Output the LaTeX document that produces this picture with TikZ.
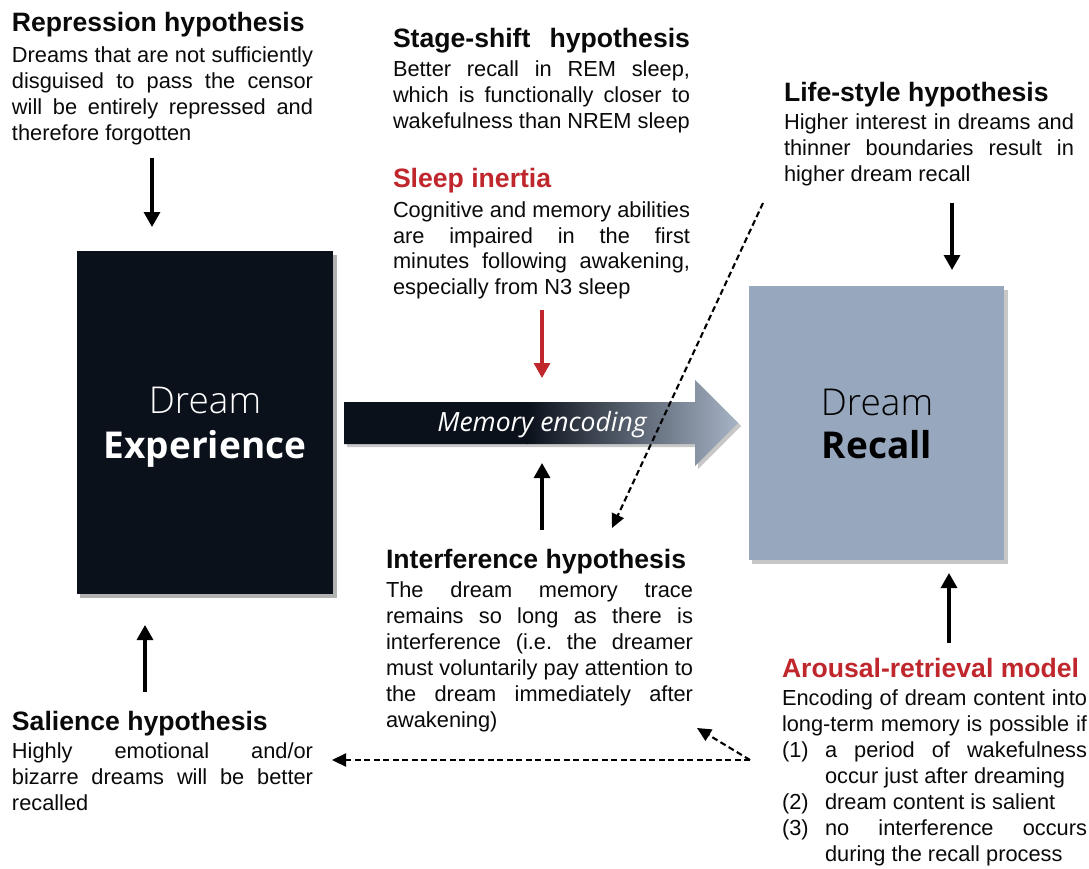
\documentclass[tikz,border=0pt]{standalone}
\usepackage{fontspec}
\setmainfont{Liberation Sans}
\newfontfamily\oslight{Open Sans Light}
\newfontfamily\osans{Open Sans}
\usetikzlibrary{arrows.meta}
\definecolor{dk}{HTML}{0B111B}
\definecolor{lt}{HTML}{97A7BD}
\definecolor{rd}{HTML}{C0272D}
\definecolor{arl}{HTML}{A8B5C7}
\definecolor{txt}{HTML}{0A0A0A}
\newcommand\tf{\fontsize{26.6}{29}\selectfont\bfseries}
\newcommand\bodyf{\fontsize{21.8}{26}\selectfont}
\newcommand\jl[2]{\hbox to #1pt{\bodyf #2}}
\newcommand\nl[1]{\hbox{\bodyf #1}}
\newcommand\itm[2]{\hbox to 43pt{\bodyf #1\hss}}
\tikzset{
  blk/.style={anchor=base west, inner sep=0pt, outer sep=0pt, text=txt},
  arr/.style={line width=3.2pt, -{Triangle[length=15pt,width=16pt]}},
  darr/.style={line width=2.1pt, dash pattern=on 6pt off 3.5pt, -{Triangle[length=14pt,width=13pt]}},
}
\begin{document}
\begin{tikzpicture}[x=1pt,y=-1pt]
\useasboundingbox (0,0) rectangle (1089,869);
\fill[white] (0,0) rectangle (1089,869);

% boxes with shadows
\fill[black!30] (80,255) rectangle (337,598);
\node[fill=dk, minimum width=256pt, minimum height=343pt, inner sep=0pt, anchor=north west] (exp) at (77,251) {};
\node[text=white, font=\oslight\fontsize{37}{40}\selectfont, anchor=base] (expa) at (205,413) {Dream};
\node[text=white, font=\osans\bfseries\fontsize{37}{40}\selectfont, anchor=base] (expb) at (205,458) {Experience};

\fill[black!22] (752,290) rectangle (1008,564);
\node[fill=lt, minimum width=255pt, minimum height=274pt, inner sep=0pt, anchor=north west] (rec) at (749,286) {};
\node[text=black, font=\oslight\fontsize{37}{40}\selectfont, anchor=base] (reca) at (877,415) {Dream};
\node[text=black, font=\osans\bfseries\fontsize{37}{40}\selectfont, anchor=base] (recb) at (877,458) {Recall};

% memory encoding arrow
\fill[black!22, shift={(3,3)}] (344,402) -- (695,402) -- (695,380) -- (738,423) -- (695,466) -- (695,444) -- (344,444) -- cycle;
\begin{scope}
\clip (344,402) -- (695,402) -- (695,380) -- (738,423) -- (695,466) -- (695,444) -- (344,444) -- cycle;
\fill[dk] (340,370) rectangle (528,470);
\shade[left color=dk, right color=arl] (527,370) rectangle (740,470);
\end{scope}
\node[text=white, font=\osans\itshape\fontsize{26.5}{30}\selectfont] (enc) at (542,425) {Memory encoding};

% text blocks
\node[blk] (rep) at (12,32) {\vtop{\baselineskip=25.8pt
\hbox{\tf Repression hypothesis}\vskip5pt
\jl{301}{Dreams that are not sufficiently}
\jl{301}{disguised to pass the censor}
\jl{301}{will be entirely repressed and}
\nl{therefore forgotten}}};

\node[blk] (stg) at (393,48) {\vtop{\baselineskip=26pt
\hbox to 297pt{\tf Stage-shift hypothesis}\vskip3pt
\jl{297}{Better recall in REM sleep,}
\jl{297}{which is functionally closer to}
\nl{wakefulness than NREM sleep}}};

\node[blk] (sin) at (393,188) {\vtop{\baselineskip=26pt
\hbox{\tf\color{rd}Sleep inertia}\vskip3pt
\jl{297}{Cognitive and memory abilities}
\jl{297}{are impaired in the first}
\jl{297}{minutes following awakening,}
\nl{especially from N3 sleep}}};

\node[blk] (life) at (784,102) {\vtop{\baselineskip=26pt
\hbox{\tf Life-style hypothesis}\vskip2pt
\jl{290}{Higher interest in dreams and}
\jl{290}{thinner boundaries result in}
\nl{higher dream recall}}};

\node[blk] (intf) at (386,568) {\vtop{\baselineskip=26pt
\hbox{\tf Interference hypothesis}\vskip3pt
\jl{307}{The dream memory trace}
\jl{307}{remains so long as there is}
\jl{307}{interference (i.e.\ the dreamer}
\jl{307}{must voluntarily pay attention to}
\jl{307}{the dream immediately after}
\nl{awakening)}}};

\node[blk] (sal) at (12,730) {\vtop{\baselineskip=26pt
\hbox{\tf Salience hypothesis}\vskip2pt
\jl{301}{Highly emotional and/or}
\jl{301}{bizarre dreams will be better}
\nl{recalled}}};

\node[blk] (aro) at (782,677) {\vtop{\baselineskip=26pt
\hbox{\tf\color{rd}Arousal-retrieval model}\vskip2pt
\jl{305}{Encoding of dream content into}
\jl{305}{long-term memory is possible if}
\hbox to 305pt{\itm{(1)}{}\bodyf a period of wakefulness}
\hbox{\hskip43pt\bodyf occur just after dreaming}
\hbox{\itm{(2)}{}\bodyf dream content is salient}
\hbox to 305pt{\itm{(3)}{}\bodyf no interference occurs}
\hbox{\hskip43pt\bodyf during the recall process}}};

% connectors
\coordinate (r0) at (152,158); \coordinate (r1) at (152,227);
\coordinate (s0) at (542,310); \coordinate (s1) at (542,378);
\coordinate (i0) at (542,530); \coordinate (i1) at (542,463);
\coordinate (l0) at (952,203); \coordinate (l1) at (952,270);
\coordinate (sa0) at (145,692); \coordinate (sa1) at (145,625);
\coordinate (a0) at (949,643); \coordinate (a1) at (949,573);
\coordinate (d0) at (763,203); \coordinate (d1) at (612,528);
\coordinate (h0) at (750,760); \coordinate (h1) at (332,760); \coordinate (h2) at (697,728);

\draw[arr] (r0) -- (r1);
\draw[arr, rd] (s0) -- (s1);
\draw[arr] (i0) -- (i1);
\draw[arr] (l0) -- (l1);
\draw[arr] (sa0) -- (sa1);
\draw[arr] (a0) -- (a1);
\draw[darr] (d0) -- (d1);
\draw[darr] (h0) -- (h1);
\draw[darr] (h0) -- (h2);
\end{tikzpicture}
\end{document}
